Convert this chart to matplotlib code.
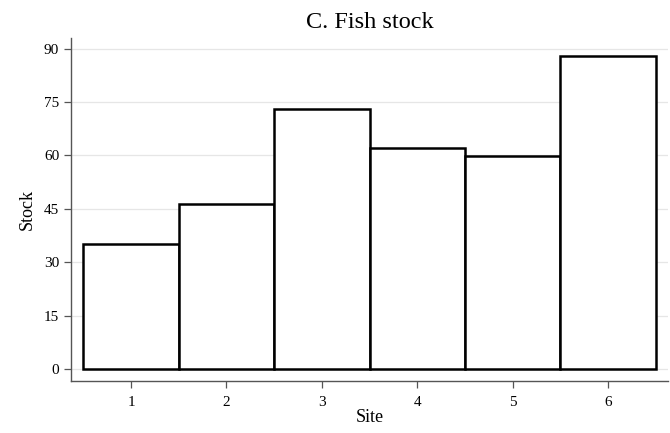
import matplotlib
matplotlib.use("Agg")
import matplotlib.pyplot as plt

# Fish stock per site
sites = [1, 2, 3, 4, 5, 6]
stock = [35, 46.5, 73.2, 62.1, 59.9, 88.0]
yticks = [0, 15, 30, 45, 60, 75, 90]

plt.rcParams['font.family'] = ['Liberation Serif', 'DejaVu Serif']

fig = plt.figure(figsize=(6.7, 4.33), dpi=100)
ax = fig.add_axes([0.106, 0.120, 0.891, 0.792])

ax.bar(sites, stock, width=1.0, color='white', edgecolor='black', linewidth=1.8, zorder=3)

ax.set_xlim(0.37, 6.63)
ax.set_ylim(-3.4, 93)
ax.set_yticks(yticks)
ax.set_xticks(sites)
ax.yaxis.grid(True, color='#e6e6e6', linewidth=0.9, zorder=0)
ax.set_axisbelow(True)

for s in ['top', 'right']:
    ax.spines[s].set_visible(False)
for s in ['left', 'bottom']:
    ax.spines[s].set_color('#555555')
    ax.spines[s].set_linewidth(1.0)

ax.tick_params(axis='both', direction='out', length=5, width=0.9, color='#555555', labelsize=11)
ax.tick_params(axis='x', pad=6)

ax.set_xlabel('Site', fontsize=13, labelpad=0)
ax.set_ylabel('Stock', fontsize=13, labelpad=6)
ax.set_title('C. Fish stock', fontsize=17.5, pad=7)

fig.savefig('out.png', dpi=100)
